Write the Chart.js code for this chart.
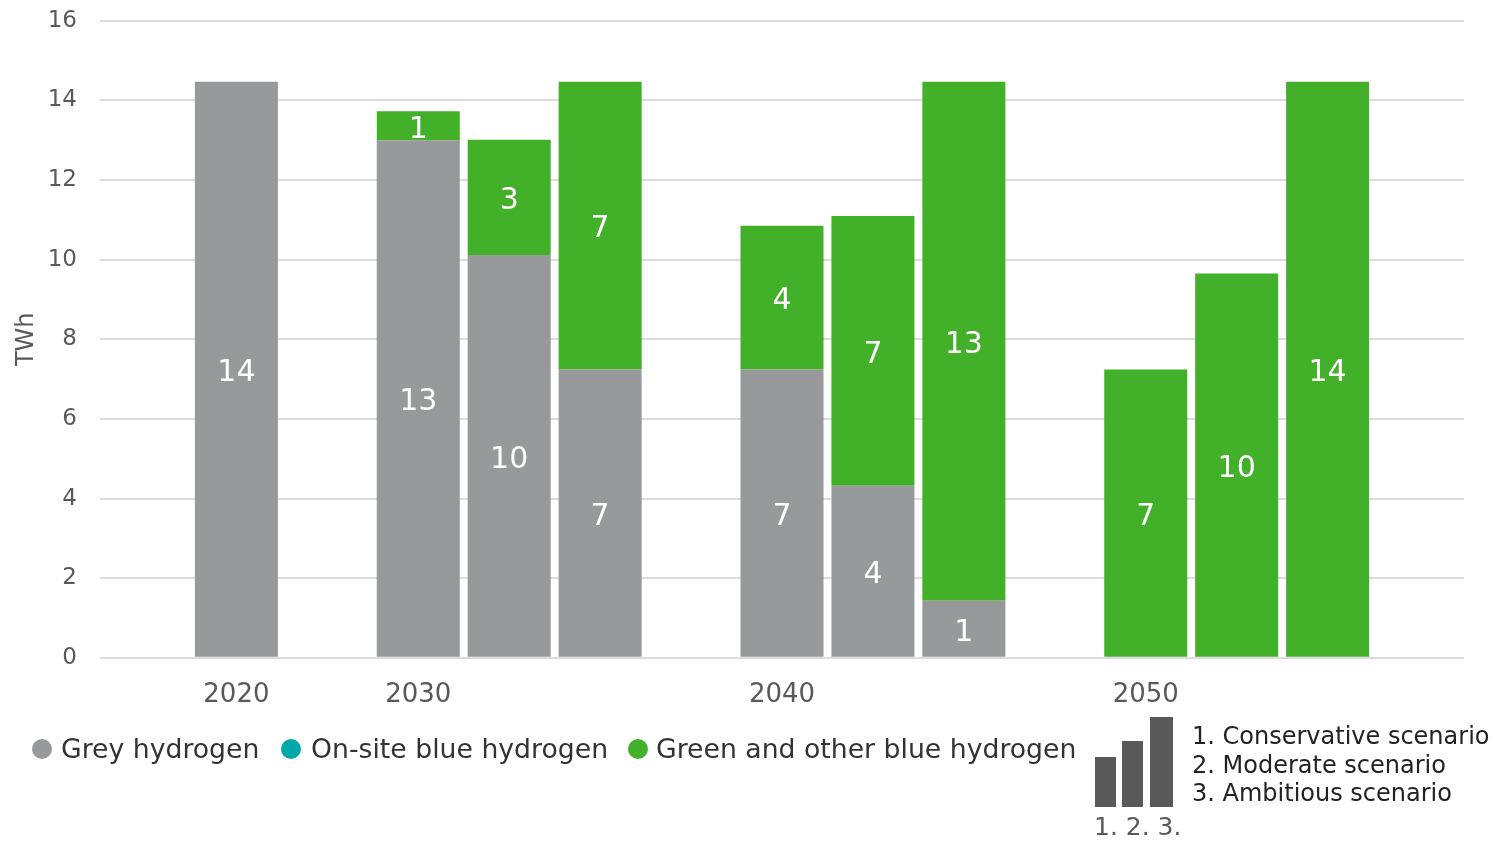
<!DOCTYPE html>
<html>
<head>
<meta charset="utf-8">
<script src="https://cdn.jsdelivr.net/npm/chart.js@4"></script>
<style>
  html, body { margin: 0; padding: 0; background: #fff; overflow: hidden; }
  #wrap { position: relative; width: 1493px; height: 841px; overflow: hidden; font-family: "DejaVu Sans", Verdana, sans-serif; }
  #c { position: absolute; left: 0; top: -16px; }
  .lg { position: absolute; font-size: 26.7px; color: #333; white-space: nowrap; line-height: 30px; }
  .dot { position: absolute; width: 20px; height: 20px; border-radius: 50%; }
  .sc { position: absolute; font-size: 24px; color: #222; white-space: nowrap; line-height: 28px; }
  .ib { position: absolute; background: #595959; }
</style>
</head>
<body>
<div id="wrap">
  <canvas id="c" width="1493" height="857"></canvas>
</div>
<script>
// ---- data ----
const categories = ['', '2020', '', '2030', '', '', '', '2040', '', '', '', '2050', '', '', ''];
const greyHydrogen = [null, 14.47, null, 13.0, 10.12, 7.24, null, 7.24, 4.32, 1.43, null, 0, 0, 0, null];
const onsiteBlueHydrogen = [null, null, null, null, null, null, null, null, null, null, null, null, null, null, null];
const greenHydrogen = [null, 0, null, 0.73, 2.89, 7.23, null, 3.61, 6.78, 13.04, null, 7.24, 9.65, 14.47, null];
const seriesNames = ['Grey hydrogen', 'On-site blue hydrogen', 'Green and other blue hydrogen'];
const seriesColors = ['#98999b', '#00a9a9', '#43b02a'];
const yTicks = [0, 2, 4, 6, 8, 10, 12, 14, 16];
const scenarioLines = ['1. Conservative scenario', '2. Moderate scenario', '3. Ambitious scenario'];
const scenarioIconLabel = '1. 2. 3.';

const FONT = '"DejaVu Sans", Verdana, sans-serif';

const barLabels = {
  id: 'barLabels',
  afterDatasetsDraw(chart) {
    const ctx = chart.ctx;
    ctx.save();
    ctx.fillStyle = '#ffffff';
    ctx.font = '30px ' + FONT;
    ctx.textAlign = 'center';
    ctx.textBaseline = 'middle';
    chart.data.datasets.forEach((ds, di) => {
      const meta = chart.getDatasetMeta(di);
      if (meta.hidden) return;
      meta.data.forEach((el, i) => {
        const v = ds.data[i];
        if (v == null || v < 0.3) return;
        const cy = (el.y + el.base) / 2;
        ctx.fillText(String(Math.round(v)), el.x, cy + 4);
      });
    });
    ctx.restore();
  }
};

const dataSets = [greyHydrogen, onsiteBlueHydrogen, greenHydrogen].map((d, i) => ({
  label: seriesNames[i],
  data: d,
  backgroundColor: seriesColors[i],
  borderWidth: 0,
  categoryPercentage: 1.0,
  barPercentage: 0.913
}));

new Chart(document.getElementById('c'), {
  type: 'bar',
  data: { labels: categories, datasets: dataSets },
  options: {
    responsive: false,
    animation: false,
    devicePixelRatio: 1,
    layout: { padding: { top: 0, right: 29, bottom: 108, left: 0 } },
    plugins: { legend: { display: false }, tooltip: { enabled: false } },
    scales: {
      x: {
        stacked: true,
        grid: { display: false, drawTicks: false },
        border: { display: false },
        ticks: {
          autoSkip: false, maxRotation: 0, minRotation: 0, padding: 22,
          color: '#595959', font: { family: FONT, size: 26 }
        }
      },
      y: {
        stacked: true,
        min: 0, max: 16,
        afterBuildTicks(s) { s.ticks = yTicks.map(v => ({ value: v })); },
        afterFit(s) { s.width = 100; },
        grid: { color: '#dcdcdc', lineWidth: 2, drawTicks: false },
        border: { display: false },
        ticks: { padding: 23, color: '#595959', font: { family: FONT, size: 23 } },
        title: { display: true, text: 'TWh', color: '#595959', font: { family: FONT, size: 24 }, padding: { top: 12, bottom: 0 } }
      }
    }
  },
  plugins: [barLabels]
});

// ---- legend (HTML) ----
const wrap = document.getElementById('wrap');
const legendPos = [{ dot: 32, text: 61 }, { dot: 281, text: 311 }, { dot: 628, text: 656 }];
seriesNames.forEach((name, i) => {
  const d = document.createElement('div');
  d.className = 'dot';
  d.style.left = legendPos[i].dot + 'px';
  d.style.top = '739px';
  d.style.background = seriesColors[i];
  wrap.appendChild(d);
  const t = document.createElement('div');
  t.className = 'lg';
  t.style.left = legendPos[i].text + 'px';
  t.style.top = '734px';
  t.textContent = name;
  wrap.appendChild(t);
});

// scenario key
const iconBars = [{ l: 1095, w: 21, t: 757 }, { l: 1122, w: 21, t: 741 }, { l: 1150, w: 23, t: 717 }];
iconBars.forEach(b => {
  const d = document.createElement('div');
  d.className = 'ib';
  d.style.left = b.l + 'px';
  d.style.width = b.w + 'px';
  d.style.top = b.t + 'px';
  d.style.height = (807 - b.t) + 'px';
  wrap.appendChild(d);
});
const il = document.createElement('div');
il.className = 'sc';
il.style.left = '1094px'; il.style.top = '813px'; il.style.fontSize = '25px'; il.style.color = '#595959';
il.textContent = scenarioIconLabel;
wrap.appendChild(il);
scenarioLines.forEach((s, i) => {
  const d = document.createElement('div');
  d.className = 'sc';
  d.style.left = '1192px';
  d.style.top = (722 + i * 28.5) + 'px';
  d.textContent = s;
  wrap.appendChild(d);
});
</script>
</body>
</html>
